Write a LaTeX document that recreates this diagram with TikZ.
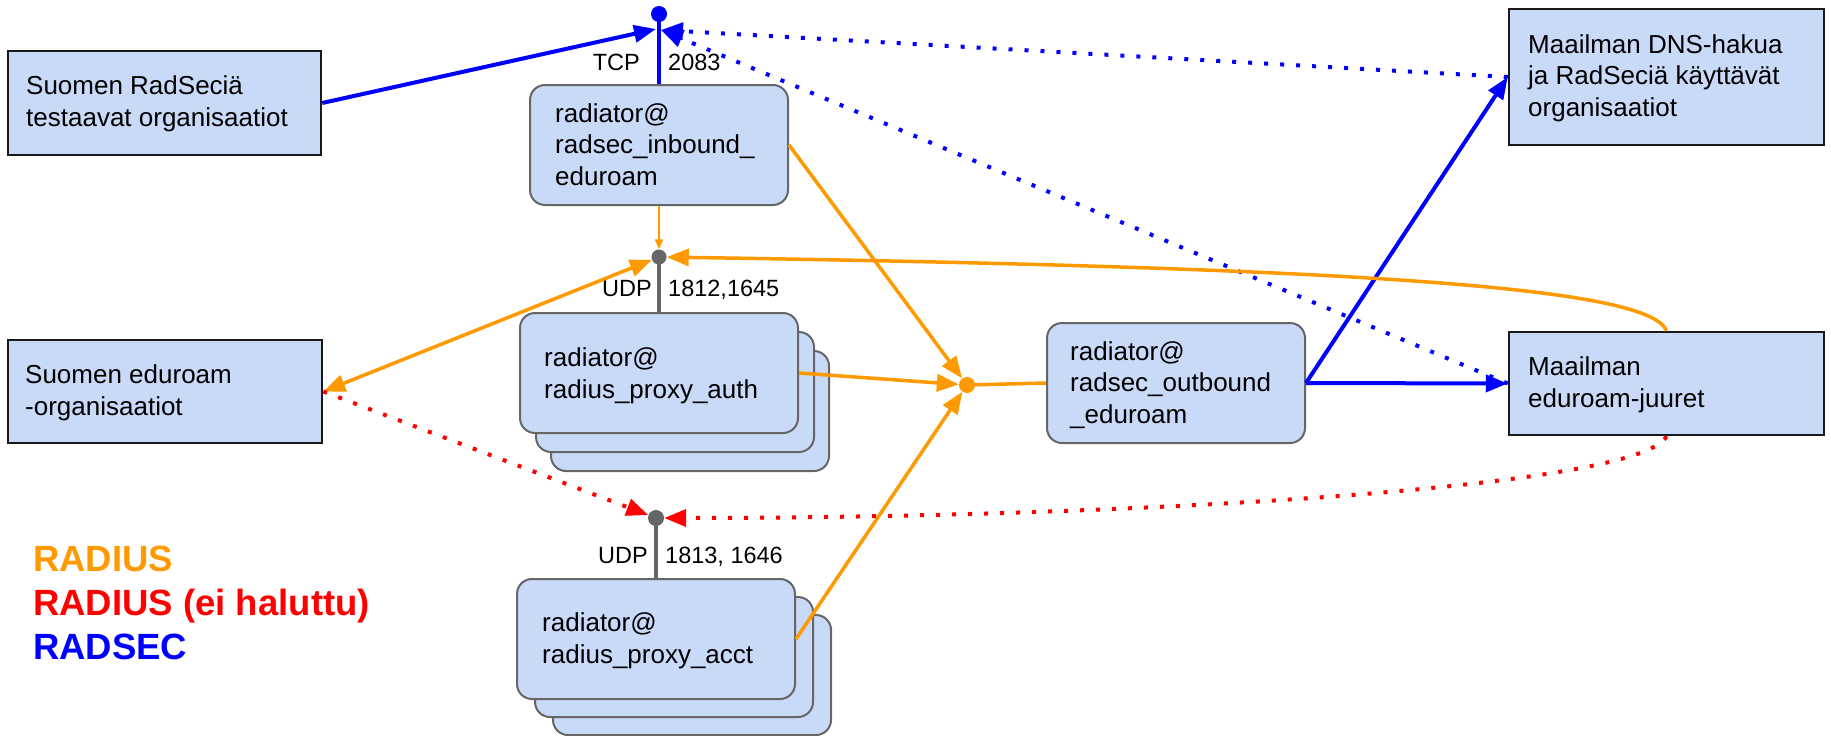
\documentclass[tikz,border=0pt]{standalone}
\usepackage{fontspec}
\setmainfont{Liberation Sans}
\usetikzlibrary{arrows.meta}
\definecolor{boxblue}{HTML}{C9DAF8}
\definecolor{rorange}{HTML}{FF9900}
\definecolor{rred}{HTML}{FF0000}
\definecolor{rblue}{HTML}{0000FF}
\definecolor{edgegray}{HTML}{666666}
\newcommand\bxfont{\fontsize{26}{31.5}\selectfont}
\newcommand\lblfont{\fontsize{23.5}{28}\selectfont}
\newcommand\lgfont{\bfseries\fontsize{36.5}{44}\selectfont}
\begin{document}
\begin{tikzpicture}[x=1pt,y=-1pt,
  sqbox/.style={draw=black!90, line width=2.5pt, fill=boxblue, inner sep=0pt},
  rbox/.style={draw=edgegray, line width=2pt, fill=boxblue, rounded corners=15pt, inner sep=0pt},
  txt/.style={anchor=base west, align=left, inner sep=0pt, font=\bxfont},
  lblL/.style={anchor=base east, inner sep=0pt, font=\lblfont},
  lblR/.style={anchor=base west, inner sep=0pt, font=\lblfont},
  lgd/.style={anchor=base west, inner sep=0pt, font=\lgfont},
  pdot/.style={circle, inner sep=0pt, minimum size=#1},
  tipb/.style={-{Triangle[length=22pt,width=17pt]}},
  tipbb/.style={{Triangle[length=22pt,width=17pt]}-{Triangle[length=22pt,width=17pt]}},
  bsolid/.style={draw=rblue, line width=4pt},
  bdot/.style={draw=rblue, line width=4pt, dash pattern=on 4pt off 12pt},
  osolid/.style={draw=rorange, line width=3.5pt},
  rdot/.style={draw=rred, line width=4pt, dash pattern=on 4pt off 12pt},
  gline/.style={draw=edgegray, line width=4pt}
]
\useasboundingbox (0,0) rectangle (1831,736);

% square boxes
\node[sqbox, minimum width=313pt, minimum height=104pt] (srs) at (164.5,103) {};
\node[sqbox, minimum width=314pt, minimum height=103pt] (seo) at (165,391.5) {};
\node[sqbox, minimum width=315pt, minimum height=136pt] (dns) at (1666.5,77) {};
\node[sqbox, minimum width=315pt, minimum height=103pt] (roots) at (1666.5,383.5) {};

% rounded boxes
\node[rbox, minimum width=258pt, minimum height=120pt] (inb) at (659,145) {};
\node[rbox, minimum width=278pt, minimum height=120pt] (auth3) at (690,411) {};
\node[rbox, minimum width=278pt, minimum height=120pt] (auth2) at (675,392) {};
\node[rbox, minimum width=278pt, minimum height=120pt] (auth) at (659,373) {};
\node[rbox, minimum width=278pt, minimum height=120pt] (acct3) at (692,675) {};
\node[rbox, minimum width=278pt, minimum height=120pt] (acct2) at (674,657) {};
\node[rbox, minimum width=278pt, minimum height=120pt] (acct) at (656,639) {};
\node[rbox, minimum width=258pt, minimum height=120pt] (outb) at (1176,383) {};

% box texts (anchored at the baseline of the last line)
\node[txt] (srs-t) at (26,126) {Suomen RadSeciä\\testaavat organisaatiot};
\node[txt] (seo-t) at (25,415) {Suomen eduroam\\-organisaatiot};
\node[txt] (dns-t) at (1528,116) {Maailman DNS-hakua\\ja RadSeciä käyttävät\\organisaatiot};
\node[txt] (roots-t) at (1528,407) {Maailman\\eduroam-juuret};
\node[txt] (inb-t) at (555,185) {radiator@\\radsec\_inbound\_\\eduroam};
\node[txt] (auth-t) at (544,398) {radiator@\\radius\_proxy\_auth};
\node[txt] (acct-t) at (542,663) {radiator@\\radius\_proxy\_acct};
\node[txt] (outb-t) at (1070,423) {radiator@\\radsec\_outbound\\\_eduroam};

% port points
\node[pdot=16pt, fill=rblue] (tcp) at (659,14) {};
\node[pdot=15pt, fill=edgegray] (udp1) at (659,257) {};
\node[pdot=16pt, fill=edgegray] (udp2) at (656,518) {};
\node[pdot=16pt, fill=rorange] (junc) at (967,385) {};
\coordinate (tcpL) at (656,29);
\coordinate (tcpR) at (661,30);

% port labels
\node[lblL] (tcp-l) at (640,70) {TCP};
\node[lblR] (tcp-p) at (668,70) {2083};
\node[lblL] (udp1-l) at (652,296) {UDP};
\node[lblR] (udp1-p) at (668,296) {1812,1645};
\node[lblL] (udp2-l) at (648,563) {UDP};
\node[lblR] (udp2-p) at (665,563) {1813, 1646};

% legend
\node[lgd, text=rorange] (lg1) at (33,571) {RADIUS};
\node[lgd, text=rred] (lg2) at (33,615) {RADIUS (ei haluttu)};
\node[lgd, text=rblue] (lg3) at (33,659) {RADSEC};

% port stems
\draw[bsolid] (tcp.center) -- (inb.north);
\draw[gline] (udp1.center) -- (auth.north);
\draw[gline] (udp2.center) -- (acct.north);

% RADSEC
\draw[bsolid, tipb] (srs.east) -- (tcpL);
\draw[bdot, tipb] (dns.west) -- (tcpR);
\draw[bdot, tipb] (roots.west) -- (tcpR);
\draw[bsolid, tipb] (outb.east) -- (dns.west);
\draw[bsolid, tipb] (outb.east) -- (roots.west);

% RADIUS
\draw[draw=rorange, line width=2pt, -{Triangle[length=10pt,width=8pt]}] (inb.south) -- (udp1);
\draw[osolid, tipbb] (seo.east) -- (udp1);
\draw[osolid, tipb] (roots.north) .. controls (1650,290) and (1400,268) .. (udp1);
\draw[osolid, tipb] (inb.east) -- (junc);
\draw[osolid, tipb] (auth.east) -- (junc);
\draw[osolid, tipb] (acct.east) -- (junc);
\draw[osolid] (junc) -- (outb.west);

% RADIUS (unwanted)
\draw[rdot, tipb] (seo.east) -- (udp2);
\draw[rdot, tipb] (roots.south) .. controls (1640,490) and (1100,518) .. (udp2);
\end{tikzpicture}
\end{document}
